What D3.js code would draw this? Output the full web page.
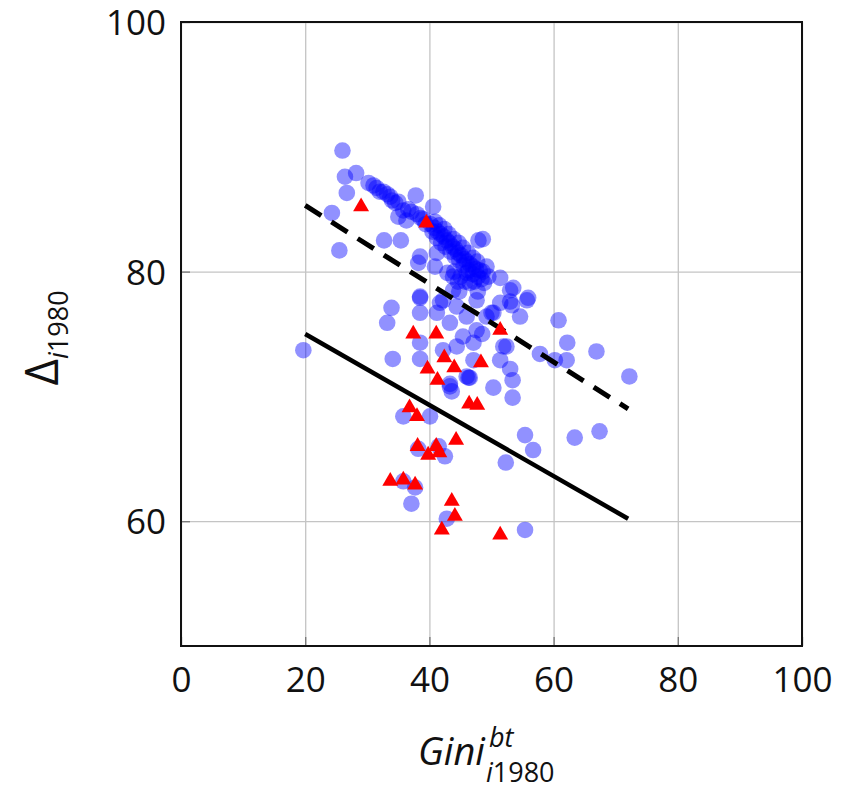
<!DOCTYPE html>
<html>
<head>
<meta charset="utf-8">
<script src="https://cdn.jsdelivr.net/npm/d3@7"></script>
<style>
  body { margin: 0; background: #fff; }
  svg text { font-family: "Open Sans", "DejaVu Sans", sans-serif; fill: #111; }
</style>
</head>
<body>
<div class="chart"></div>
<script>
// Gini (bt) 1980 vs Delta 1980
var xTicks = [0, 20, 40, 60, 80, 100];
var yTicks = [60, 80, 100];

// blue circles: [gini, delta]
var bluePts = [
  [26.0,89.7],[26.4,87.6],[28.2,87.9],[26.7,86.3],[24.3,84.7],[25.5,81.7],
  [30.2,87.1],[31.5,86.7],[32.6,86.4],[33.7,86.0],[34.5,85.5],[35.0,85.6],[35.8,84.9],
  [36.3,84.1],[37.1,84.8],[35.0,84.4],[37.8,86.1],[38.6,84.3],[39.4,83.8],[40.6,85.2],
  [31.0,86.9],[32.0,86.4],[33.2,86.2],[34.0,85.7],[36.6,85.0],[38.0,84.6],[39.0,84.2],
  [32.7,82.5],[35.4,82.5],[38.5,81.2],[38.2,80.7],[41.2,81.5],[40.9,80.4],[47.9,82.5],[48.6,82.6],
  [40.2,83.8],[40.8,83.5],[41.3,83.2],[41.8,83.0],[42.3,82.8],[42.8,82.5],[43.2,82.3],
  [43.7,82.0],[44.2,81.8],[44.6,81.5],[45.1,81.3],[45.6,81.0],[46.0,80.8],[46.5,80.6],
  [47.0,80.4],[47.5,80.2],[48.1,80.1],[48.6,80.0],[49.2,80.4],[44.0,80.0],[45.0,79.6],
  [43.8,79.6],[46.0,79.9],[47.2,79.2],[42.9,79.9],[44.6,79.2],
  [40.5,83.2],[41.2,82.7],[41.9,82.3],[42.6,82.0],[43.4,81.6],[44.1,81.2],[44.8,80.9],
  [45.5,80.5],[46.3,80.1],[47.0,79.8],[47.8,79.6],[48.4,79.4],
  [40.9,84.0],[41.6,83.7],[42.4,83.4],[43.1,83.0],[43.9,82.6],[44.7,82.3],[45.4,81.9],
  [46.2,81.5],[47.0,81.1],[47.7,80.8],
  [45.8,79.2],[48.8,79.1],[49.5,79.6],[47.8,78.4],[44.8,78.4],
  [51.4,79.5],[53.5,78.7],[53.0,78.5],[55.9,77.9],[55.7,77.7],[60.8,76.1],
  [38.5,77.9],[41.7,77.5],[44.4,77.2],[47.6,77.7],[53.0,77.6],[53.3,77.3],[50.3,76.7],
  [51.4,77.5],[50.0,76.7],[54.6,76.4],[43.8,78.5],[46.5,79.1],[42.2,77.7],[41.2,76.7],
  [43.3,75.9],[46.0,76.4],[47.6,75.3],[45.4,74.8],[44.4,74.0],[47.1,74.3],[49.2,76.4],
  [51.9,74.0],[51.4,72.9],[38.5,74.3],[42.2,73.7],[46.0,71.6],[43.3,71.0],[38.5,76.7],
  [19.7,73.7],[33.9,77.1],[33.2,75.9],[34.1,73.0],[38.5,73.0],[38.5,78.0],[35.8,68.4],
  [40.1,68.4],[43.3,70.8],[43.6,70.4],[46.3,71.5],[47.1,72.9],[48.5,75.0],
  [62.2,74.3],[62.1,72.9],[60.2,72.9],[57.8,73.4],[66.9,73.6],[72.2,71.6],[52.4,74.0],
  [53.0,72.2],[53.4,71.3],[50.3,70.7],[53.4,69.9],[46.5,71.5],[55.4,66.9],[63.4,66.7],
  [67.4,67.2],[56.7,65.7],[52.3,64.7],[55.4,59.3],
  [38.2,65.8],[42.5,65.2],[35.8,63.2],[37.7,62.7],[37.1,61.4],[42.8,60.2],[41.5,66.0]
];

// red triangles: [gini, delta]
var redPts = [
  [29.0,85.2],[39.5,83.9],[37.4,75.0],[41.1,75.0],[42.4,73.1],[39.7,72.2],[44.0,72.3],
  [41.3,71.3],[36.8,69.1],[38.0,68.4],[46.4,69.4],[47.7,69.3],[48.3,72.7],[51.4,75.3],
  [38.1,66.0],[39.8,65.3],[41.1,66.0],[41.6,65.5],[44.3,66.5],[33.7,63.2],[35.8,63.3],
  [37.7,62.9],[43.6,61.6],[44.1,60.4],[42.0,59.3],[51.4,58.9]
];

// fitted lines: endpoints
var dashLine = [[20, 85.3], [72, 69.0]];
var solidLine = [[20, 75.0], [72, 60.2]];

var margin = {top: 22, right: 41, bottom: 144, left: 181},
    width = 843 - margin.left - margin.right,
    height = 790 - margin.top - margin.bottom;

var svg = d3.select(".chart").append("svg")
    .attr("width", 843)
    .attr("height", 790);

var g = svg.append("g")
    .attr("transform", "translate(" + margin.left + "," + margin.top + ")");

var x = d3.scaleLinear().domain([0, 100]).range([0, width]);
var y = d3.scaleLinear().domain([50, 100]).range([height, 0]);

// grid
g.append("g")
    .attr("class", "grid")
    .attr("transform", "translate(0," + height + ")")
    .call(d3.axisBottom(x).tickValues(xTicks).tickSize(-height).tickFormat(""))
    .call(function(s) { s.select(".domain").remove(); })
    .selectAll("line").attr("stroke", "#c4c4c4").attr("stroke-width", 1.3);

g.append("g")
    .attr("class", "grid")
    .call(d3.axisLeft(y).tickValues(yTicks).tickSize(-width).tickFormat(""))
    .call(function(s) { s.select(".domain").remove(); })
    .selectAll("line").attr("stroke", "#c4c4c4").attr("stroke-width", 1.3);

// small inner ticks
g.append("g")
    .attr("transform", "translate(0," + height + ")")
    .call(d3.axisBottom(x).tickValues(xTicks).tickSize(-9).tickFormat(""))
    .call(function(s) { s.select(".domain").remove(); })
    .selectAll("line").attr("stroke", "#777").attr("stroke-width", 1.3);
g.append("g")
    .call(d3.axisLeft(y).tickValues(yTicks).tickSize(-9).tickFormat(""))
    .call(function(s) { s.select(".domain").remove(); })
    .selectAll("line").attr("stroke", "#777").attr("stroke-width", 1.3);

// tick labels
var xAxis = g.append("g")
    .attr("transform", "translate(0," + height + ")")
    .call(d3.axisBottom(x).tickValues(xTicks).tickSize(0).tickPadding(21));
xAxis.select(".domain").remove();
xAxis.selectAll("text").style("font-size", "35px").attr("fill", "#111");

var yAxis = g.append("g")
    .call(d3.axisLeft(y).tickValues(yTicks).tickSize(0).tickPadding(15));
yAxis.select(".domain").remove();
yAxis.selectAll("text").style("font-size", "35px").attr("fill", "#111")
    .attr("dy", "0.36em");

// blue circles
g.append("g").selectAll("circle")
    .data(bluePts)
    .enter().append("circle")
    .attr("cx", function(d) { return x(d[0]); })
    .attr("cy", function(d) { return y(d[1]); })
    .attr("r", 8.3)
    .style("fill", "#0000ff")
    .style("fill-opacity", 0.43);

// lines
var line = d3.line()
    .x(function(d) { return x(d[0]); })
    .y(function(d) { return y(d[1]); });

g.append("path")
    .datum(dashLine)
    .attr("d", line)
    .attr("fill", "none")
    .attr("stroke", "#000")
    .attr("stroke-width", 5)
    .attr("stroke-dasharray", "19,12");

g.append("path")
    .datum(solidLine)
    .attr("d", line)
    .attr("fill", "none")
    .attr("stroke", "#000")
    .attr("stroke-width", 4.5);

// red triangles
var tri = d3.symbol().type(d3.symbolTriangle).size(110);
g.append("g").selectAll("path")
    .data(redPts)
    .enter().append("path")
    .attr("d", tri)
    .attr("transform", function(d) { return "translate(" + x(d[0]) + "," + y(d[1]) + ")"; })
    .style("fill", "#ff0000");

// frame
g.append("rect")
    .attr("width", width)
    .attr("height", height)
    .attr("fill", "none")
    .attr("stroke", "#111")
    .attr("stroke-width", 2);

// y label: Delta_{i1980}
var yl = svg.append("text")
    .attr("transform", "translate(58,338) rotate(-90)")
    .attr("text-anchor", "middle");
yl.append("tspan").style("font-size", "46px").text("Δ");
yl.append("tspan").attr("dy", 10).style("font-size", "27px").style("font-style", "italic").text("i");
yl.append("tspan").style("font-size", "27px").text("1980");

// x label: Gini^{bt}_{i1980}
var xl = svg.append("g");
var gini = xl.append("text")
    .attr("x", 418).attr("y", 765)
    .style("font-size", "38px").style("font-style", "italic")
    .text("Gini");
var gw = gini.node().getComputedTextLength();
xl.append("text")
    .attr("x", 418 + gw + 4).attr("y", 747)
    .style("font-size", "27px").style("font-style", "italic")
    .text("bt");
var sub = xl.append("text")
    .attr("x", 418 + gw + 1).attr("y", 782)
    .style("font-size", "27px");
sub.append("tspan").style("font-style", "italic").text("i");
sub.append("tspan").text("1980");
</script>
</body>
</html>
